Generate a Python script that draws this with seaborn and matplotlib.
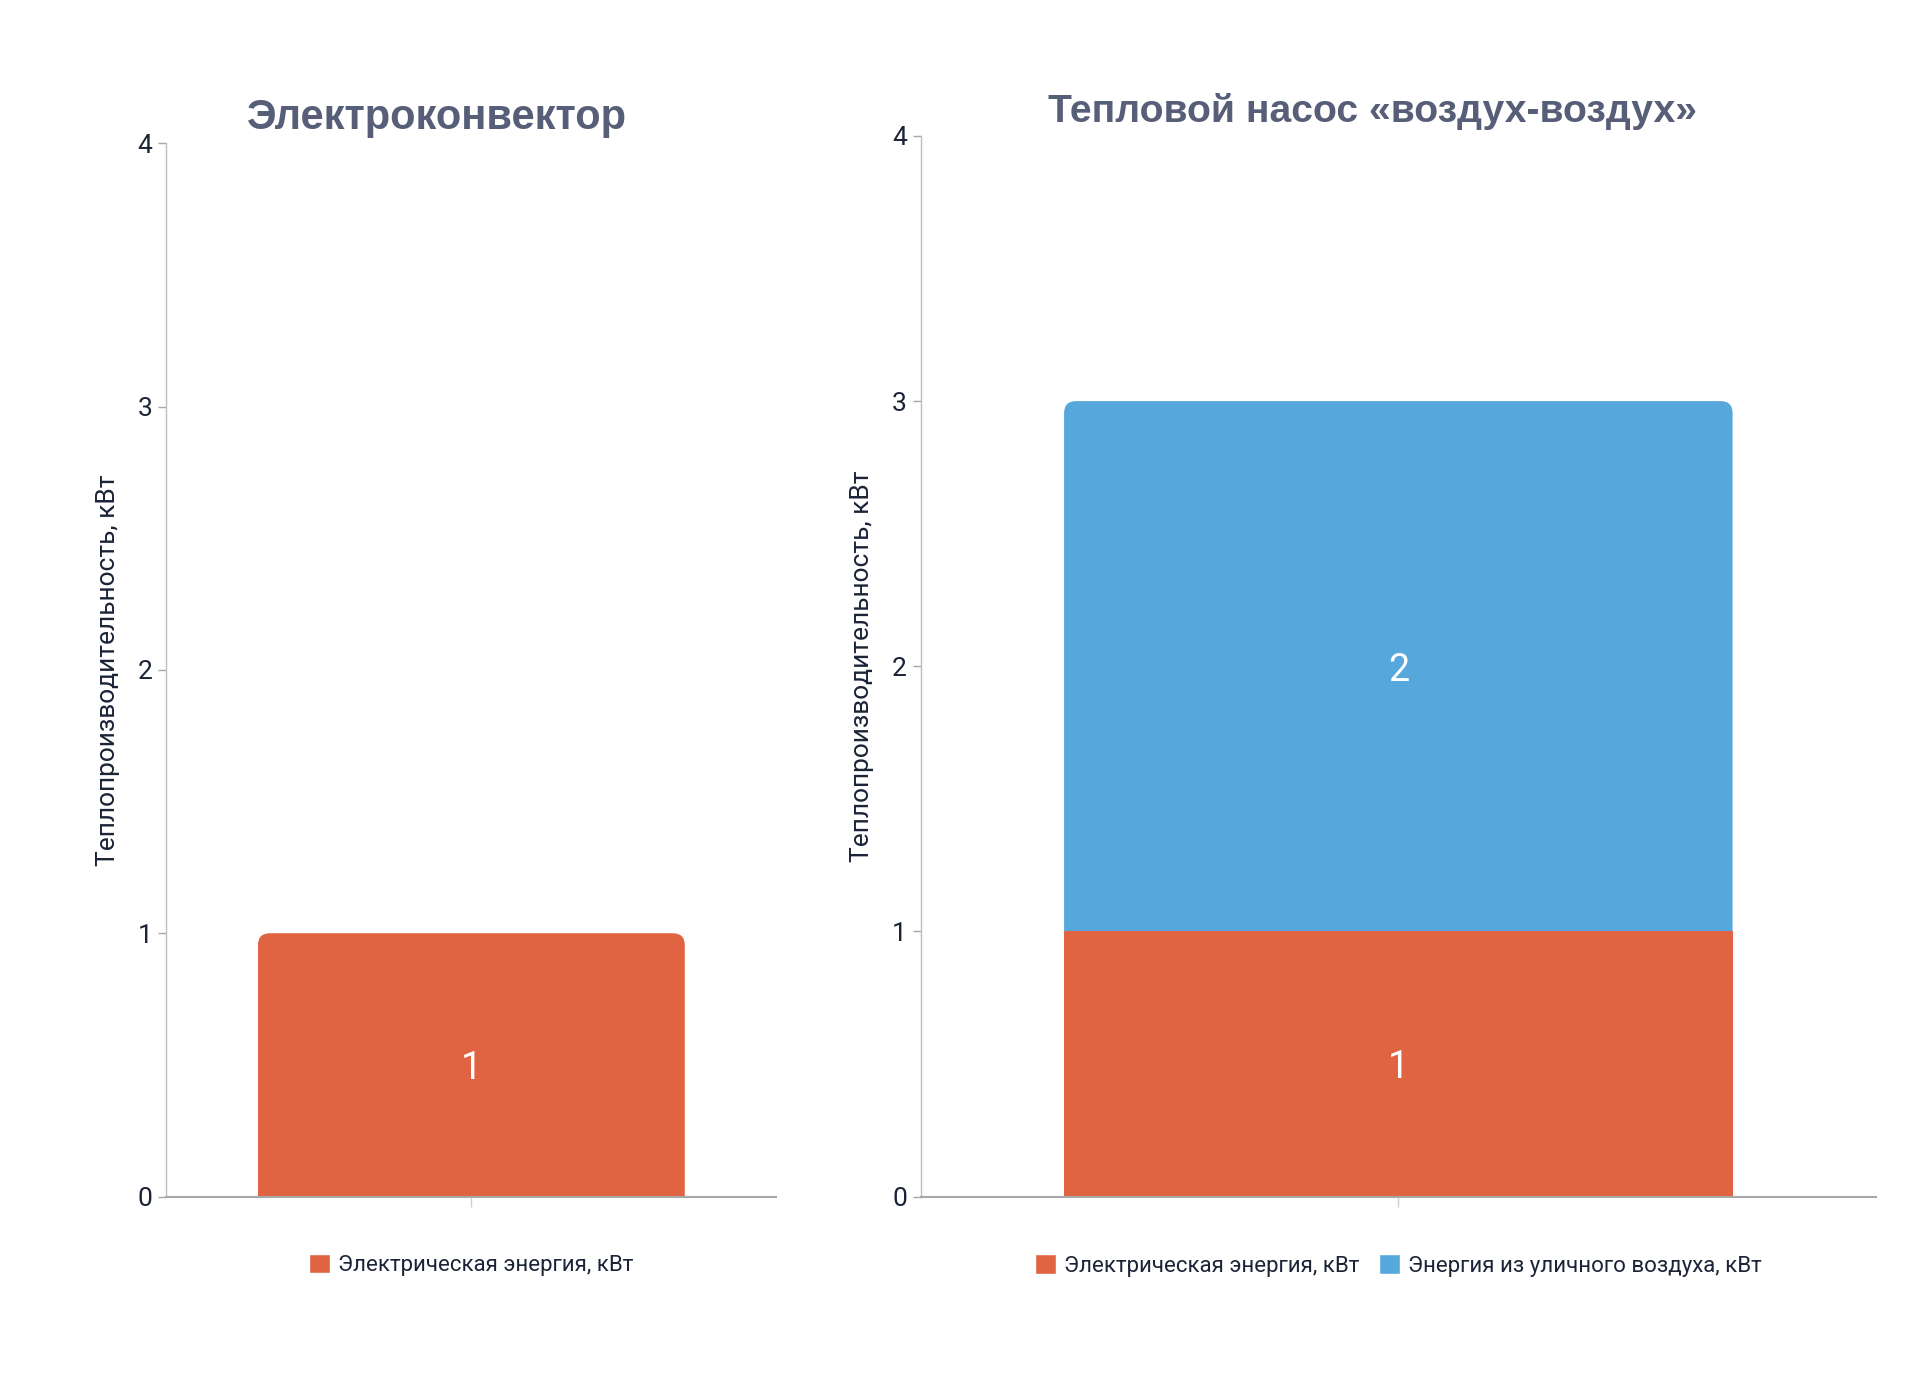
import matplotlib
matplotlib.use("Agg")
import matplotlib.pyplot as plt
import seaborn as sns
import pandas as pd
from matplotlib.patches import FancyBboxPatch, Patch

# ---- data ----
titles = ["Электроконвектор", "Тепловой насос «воздух-воздух»"]
y_label = "Теплопроизводительность, кВт"
series_names = ["Электрическая энергия, кВт", "Энергия из уличного воздуха, кВт"]
electric = [1, 1]          # electric energy per device
outdoor_air = [0, 2]       # energy from outside air per device
y_ticks = [0, 1, 2, 3, 4]

ORANGE = "#E06441"
BLUE = "#56A8DC"
TITLE_C = "#565E78"
TEXT_C = "#1B2337"
AXIS_C = "#A8A8A8"

sns.set_theme(style="white")
plt.rcParams["font.family"] = ["Roboto", "DejaVu Sans"]

fig = plt.figure(figsize=(19.2, 13.79), dpi=100)
ax1 = fig.add_axes([0.0867, 0.1323, 0.3176, 0.7638])
ax2 = fig.add_axes([0.4796, 0.1323, 0.4974, 0.7691])
axes = [ax1, ax2]
title_x = [0.444, 0.473]
title_size = [30, 28.2]


def round_top(ax, bar, radius_px=12):
    fig.canvas.draw()
    x0, x1 = ax.get_xlim()
    y0, y1 = ax.get_ylim()
    bb = ax.get_window_extent()
    xpp = (x1 - x0) / bb.width
    ypp = (y1 - y0) / bb.height
    r = radius_px * xpp
    h = bar.get_height()
    clip = FancyBboxPatch((bar.get_x() + r, -1), bar.get_width() - 2 * r,
                          h + 1 - (radius_px * ypp),
                          boxstyle=f"round,pad={r}",
                          mutation_aspect=ypp / xpp,
                          transform=ax.transData, facecolor="none", edgecolor="none")
    bar.set_clip_path(clip)


for i, ax in enumerate(axes):
    total = electric[i] + outdoor_air[i]
    df_tot = pd.DataFrame({"device": [titles[i]], "value": [total]})
    df_el = pd.DataFrame({"device": [titles[i]], "value": [electric[i]]})
    top_bar = None
    if outdoor_air[i] > 0:
        sns.barplot(data=df_tot, x="device", y="value", color=BLUE, saturation=1,
                    width=0.7, ax=ax, linewidth=0)
        top_bar = ax.patches[-1]
    sns.barplot(data=df_el, x="device", y="value", color=ORANGE, saturation=1,
                width=0.7, ax=ax, linewidth=0)
    el_bar = ax.patches[-1]
    if top_bar is None:
        top_bar = el_bar

    ax.set_xlim(-0.5, 0.5)
    ax.set_ylim(0, 4)
    ax.set_yticks(y_ticks)
    ax.set_xticks([0])
    ax.set_xticklabels([""])
    ax.set_xlabel("")
    ax.set_ylabel(y_label, fontsize=19, color=TEXT_C, labelpad=13)
    ax.tick_params(axis="y", length=6, width=1, color=AXIS_C, labelsize=19,
                   labelcolor=TEXT_C, pad=4, left=True)
    ax.tick_params(axis="x", length=7, width=1, color="#D0D0D0", bottom=True)
    for s in ["top", "right"]:
        ax.spines[s].set_visible(False)
    ax.spines["left"].set_color("#BDBDBD")
    ax.spines["bottom"].set_color(AXIS_C)
    ax.spines["left"].set_linewidth(1)
    ax.spines["bottom"].set_linewidth(1.5)
    ax.set_title(titles[i], fontsize=title_size[i], fontweight="bold", color=TITLE_C,
                 family=["Liberation Sans", "DejaVu Sans"], pad=10, x=title_x[i])

    # value labels
    ax.text(el_bar.get_x() + el_bar.get_width() / 2, electric[i] / 2, f"{electric[i]}",
            ha="center", va="center_baseline", color="white", fontsize=27)
    if outdoor_air[i] > 0:
        ax.text(el_bar.get_x() + el_bar.get_width() / 2, electric[i] + outdoor_air[i] / 2,
                f"{outdoor_air[i]}", ha="center", va="center_baseline", color="white",
                fontsize=27)

    round_top(ax, top_bar)

    handles = [Patch(facecolor=ORANGE, label=series_names[0])]
    if outdoor_air[i] > 0:
        handles.append(Patch(facecolor=BLUE, label=series_names[1]))
    leg = ax.legend(handles=handles, loc="center", bbox_to_anchor=(0.5, -0.065),
                    ncol=len(handles), frameon=False, fontsize=16, handlelength=0.95,
                    handleheight=0.95, handletextpad=0.35, columnspacing=0.9)
    for t in leg.get_texts():
        t.set_color(TEXT_C)

fig.savefig("out.png", dpi=100, facecolor="white")
